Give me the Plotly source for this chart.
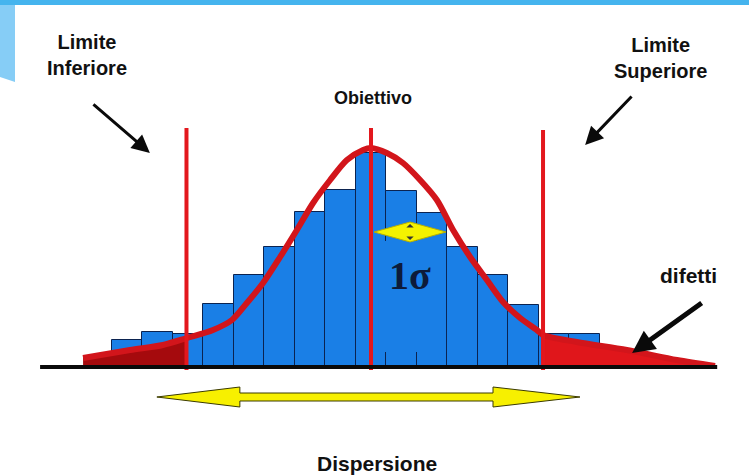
import plotly.graph_objects as go

# ---------------- data ----------------
bin_centers = [-8, -7, -6, -5, -4, -3, -2, -1, 0, 1, 2, 3, 4, 5, 6, 7]
bin_heights = [2.7, 3.5, 3.3, 6.3, 9.2, 12.0, 15.5, 17.7, 21.4, 17.6, 15.4, 12.0, 9.2, 6.2, 3.3, 3.3]

curve_x = [-9.44, -7.90, -6.82, -6.03, -5.18, -4.56, -4.07, -3.54, -2.98, -2.43, -1.90, -1.34,
           -0.79, -0.26, 0.0, 0.52, 1.05, 1.61, 2.16, 2.69, 3.25, 3.80, 4.33, 4.89, 5.44,
           5.64, 6.75, 8.39, 10.03, 11.28]
curve_y = [0.9, 1.7, 2.2, 2.9, 3.7, 4.7, 6.4, 8.4, 11.0, 13.7, 16.4, 18.7,
           20.7, 21.7, 21.9, 21.4, 20.4, 18.7, 16.7, 13.7, 11.0, 8.7, 6.5, 4.9, 3.7,
           3.2, 2.5, 1.7, 0.7, 0.1]

lower_limit = -6.05
target = 0.0
upper_limit = 5.64
limit_top = 23.9

# ---------------- figure ----------------
fig = go.Figure()

BAR_BLUE = "#1a7fe6"
RED = "#d2151b"

fig.add_trace(go.Bar(x=bin_centers, y=bin_heights, width=1.0,
                     marker=dict(color=BAR_BLUE, line=dict(color="#0b2350", width=1)),
                     showlegend=False, hoverinfo="skip"))

# tail fills (defects)
lx = [x for x in curve_x if x <= lower_limit + 0.02]
ly = [y for x, y in zip(curve_x, curve_y) if x <= lower_limit + 0.02]
fig.add_trace(go.Scatter(x=[lx[0]] + lx + [lx[-1]], y=[0] + ly + [0], fill="toself",
                         fillcolor="#a50a0d", line=dict(width=0), mode="lines",
                         showlegend=False, hoverinfo="skip"))
rx = [x for x in curve_x if x >= upper_limit - 0.02]
ry = [y for x, y in zip(curve_x, curve_y) if x >= upper_limit - 0.02]
fig.add_trace(go.Scatter(x=[rx[0]] + rx + [rx[-1]], y=[0] + ry + [0], fill="toself",
                         fillcolor="#e0161b", line=dict(width=0), mode="lines",
                         showlegend=False, hoverinfo="skip"))

fig.add_trace(go.Scatter(x=curve_x, y=curve_y, mode="lines",
                         line=dict(color=RED, width=6, shape="spline", smoothing=0.8),
                         showlegend=False, hoverinfo="skip"))

shapes = []
# slide decoration
shapes.append(dict(type="path", xref="paper", yref="paper",
                   path="M 0,1 L %f,1 L %f,%f L 0,%f Z" % (15/749, 15/749, 1-82/476, 1-77/476),
                   fillcolor="#86cdf6", line=dict(width=0), layer="below"))
shapes.append(dict(type="rect", xref="paper", yref="paper", x0=0, x1=1, y0=1-5/476, y1=1,
                   fillcolor="#45b4ee", line=dict(width=0), layer="below"))

# blue box behind 1 sigma label
shapes.append(dict(type="rect", x0=0.23, x1=2.46, y0=1.5, y1=12.6,
                   fillcolor=BAR_BLUE, line=dict(width=0)))

# limit lines
for xv, top in [(lower_limit, limit_top), (target, limit_top), (upper_limit, 23.7)]:
    shapes.append(dict(type="line", x0=xv, x1=xv, y0=-0.3, y1=top,
                       line=dict(color="#e3171d", width=4)))

# baseline
shapes.append(dict(type="line", x0=-10.85, x1=11.35, y0=0, y1=0,
                   line=dict(color="#0a0a0a", width=4)))

# 1 sigma diamond
shapes.append(dict(type="path", path="M 0.10,13.5 L 1.28,14.5 L 2.46,13.5 L 1.28,12.5 Z",
                   fillcolor="#f4f200", line=dict(color="#b8b000", width=1)))
shapes.append(dict(type="path", path="M 1.16,13.95 L 1.40,13.95 L 1.28,14.3 Z",
                   fillcolor="#333", line=dict(width=0)))
shapes.append(dict(type="path", path="M 1.16,13.05 L 1.40,13.05 L 1.28,12.7 Z",
                   fillcolor="#333", line=dict(width=0)))

# Dispersione arrow
shapes.append(dict(type="path",
                   path=("M -7.02,-3.0 L -4.30,-2.0 L -4.30,-2.6 L 4.0,-2.6 L 4.0,-2.0 "
                         "L 6.85,-3.0 L 4.0,-4.0 L 4.0,-3.4 L -4.30,-3.4 L -4.30,-4.0 Z"),
                   fillcolor="#f7f000", line=dict(color="#3a3a00", width=1)))

TXT = dict(family="Liberation Sans, Arial, sans-serif", color="#111111", weight="bold")

annotations = [
    dict(x=-9.32, y=31.2, text="Limite<br>Inferiore", font=dict(size=20, **TXT)),
    dict(x=9.5, y=30.9, text="Limite<br>Superiore", font=dict(size=20, **TXT)),
    dict(x=0.05, y=26.9, text="Obiettivo", font=dict(size=18, **TXT)),
    dict(x=10.4, y=9.2, text="difetti", font=dict(size=21, **TXT)),
    dict(x=0.2, y=-9.6, text="Dispersione", font=dict(size=21, **TXT)),
    dict(x=1.28, y=9.2, text="1σ",
         font=dict(size=40, family="Liberation Serif, Times New Roman, serif",
                   color="#0d1b3a", weight="bold")),
]
for a in annotations:
    a.update(xref="x", yref="y", showarrow=False, align="center")

arrows = [
    ((-7.25, 21.4), (-9.15, 26.4), 3, 1.2),
    ((7.02, 22.2), (8.59, 27.2), 3, 1.2),
    ((8.56, 1.4), (10.89, 6.5), 5, 0.9),
]
for (hx, hy), (tx, ty), w, sz in arrows:
    annotations.append(dict(x=hx, y=hy, ax=tx, ay=ty, xref="x", yref="y", axref="x", ayref="y",
                            text="", showarrow=True, arrowhead=2, arrowsize=sz,
                            arrowwidth=w, arrowcolor="#0a0a0a"))

fig.update_layout(
    width=749, height=476, autosize=False,
    margin=dict(l=0, r=0, t=0, b=0),
    paper_bgcolor="white", plot_bgcolor="white",
    xaxis=dict(range=[-12.164, 12.393], visible=False, fixedrange=True),
    yaxis=dict(range=[-10.9, 36.7], visible=False, fixedrange=True),
    shapes=shapes, annotations=annotations,
    bargap=0, showlegend=False,
)

fig.write_html("out.html", config={"displayModeBar": False},
               post_script="document.body.style.margin='0px';document.body.style.overflow='hidden';")
